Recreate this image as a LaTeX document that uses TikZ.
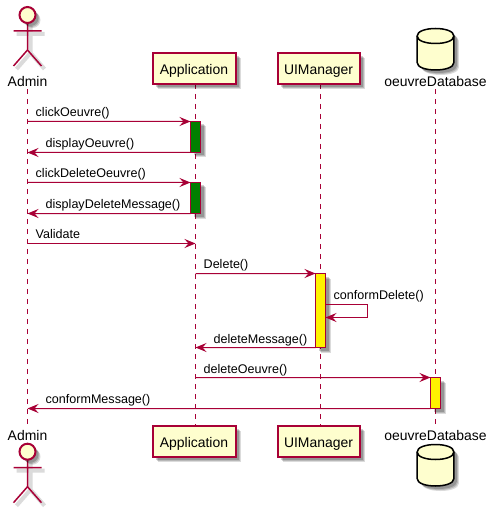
\documentclass[tikz,border=0pt]{standalone}
\usepackage{fontspec}
\setmainfont{Liberation Sans}
\usetikzlibrary{arrows.meta}
\definecolor{umlred}{HTML}{A80036}
\definecolor{umlfill}{HTML}{FEFECE}
\definecolor{umlgreen}{HTML}{008000}
\tikzset{
    softshadow/.style={
        preaction={fill=black,opacity=0.14,transform canvas={shift={(5bp,-5bp)}}},
        preaction={fill=black,opacity=0.16,transform canvas={shift={(4bp,-4bp)}}},
        preaction={fill=black,opacity=0.18,transform canvas={shift={(3bp,-3bp)}}}},
    partbox/.style={draw=umlred,fill=umlfill,line width=2bp,minimum width=#1,minimum height=31bp,inner sep=0pt,outer sep=0pt,text height=12bp,text depth=0pt,font=\fontsize{14}{16}\selectfont,softshadow},
    partname/.style={anchor=base,inner sep=2bp,font=\fontsize{14}{16}\selectfont},
    life/.style={umlred,line width=1bp,dash pattern=on 5bp off 5bp},
    msg/.style={umlred,line width=1bp,-{Stealth[length=11bp,width=9bp,inset=4bp]}},
    msgtext/.style={anchor=base west,inner sep=0pt,font=\fontsize{12.6}{15}\selectfont},
    bar/.style={draw=umlred,line width=1.5bp,minimum width=10bp,minimum height=#1,inner sep=0pt,outer sep=0pt,softshadow},
    pics/stickman/.style={code={
        \draw[black!14,line width=4bp,shift={(3,3)}] (0,8) -- (0,35) (-14,16) -- (14,16) (0,35) -- (-14,51) (0,35) -- (14,51);
        \draw[umlred,line width=1.5bp] (0,8) -- (0,35) (-14,16) -- (14,16) (0,35) -- (-14,51) (0,35) -- (14,51);
        \draw[umlred,fill=umlfill,line width=2bp,softshadow] (0,0) circle (8bp);
    }},
    pics/dbcan/.style={code={
        \draw[black,fill=umlfill,line width=1.5bp,softshadow] (-18.4,10) .. controls (-18.4,0) and (18.4,0) .. (18.4,10)
            -- (18.4,36.5) .. controls (18.4,46.5) and (-18.4,46.5) .. (-18.4,36.5) -- cycle;
        \draw[black,line width=1.5bp] (-18.4,10) .. controls (-18.4,20) and (18.4,20) .. (18.4,10);
    }}
}
\begin{document}
\begin{tikzpicture}[x=1bp,y=-1bp]
    \useasboundingbox[fill=white] (0,0) rectangle (491,508);
    % names on the four lifelines
    \node[partname] (adminTop) at (27.5,87) {Admin};
    \node[partname] (adminBot) at (27.5,440) {Admin};
    \node[partname] (dbTop) at (435.5,87) {oeuvreDatabase};
    \node[partname] (dbBot) at (435.5,440) {oeuvreDatabase};
    \coordinate (appTop) at (195.5,84);
    \coordinate (appBot) at (195.5,426);
    \coordinate (uiTop) at (320.5,84);
    \coordinate (uiBot) at (320.5,426);
    \draw[life] (adminTop.south) -- (adminBot.north);
    \draw[life] (appTop) -- (appBot);
    \draw[life] (uiTop) -- (uiBot);
    \draw[life] (dbTop.south) -- (dbBot.north);
    % participants
    \node[partbox=83bp] (appHead) at (194,69) {Application};
    \node[partbox=83bp] (appFoot) at (194,441) {Application};
    \node[partbox=82bp] (uiHead) at (318.5,69) {UIManager};
    \node[partbox=82bp] (uiFoot) at (318.5,441) {UIManager};
    \pic at (27.5,15) {stickman};
    \pic at (27.5,451.7) {stickman};
    \pic at (435.5,26) {dbcan};
    \pic at (435.5,442) {dbcan};
    % activations
    \node[bar=31bp,fill=umlgreen] (appBarA) at (195.5,137) {};
    \node[bar=31bp,fill=umlgreen] (appBarB) at (195.5,198) {};
    \node[bar=74bp,fill=yellow] (uiBar) at (320.5,310.5) {};
    \node[bar=31bp,fill=yellow] (dbBar) at (435.5,393) {};
    % message ends
    \coordinate (adminA) at (27.5,121.5);
    \coordinate (adminB) at (27.5,152.5);
    \coordinate (adminC) at (27.5,182.5);
    \coordinate (adminD) at (27.5,213.5);
    \coordinate (adminE) at (27.5,243.5);
    \coordinate (adminF) at (27.5,408.5);
    \coordinate (appE) at (195.5,243.5);
    \coordinate (appF) at (195.5,273.5);
    \coordinate (appG) at (195.5,347.5);
    \coordinate (appH) at (195.5,377.5);
    \coordinate (selfA) at (367.5,304.5);
    \coordinate (selfB) at (367.5,317.5);
    \coordinate (uiA) at (325.5,304.5);
    \coordinate (uiB) at (325.5,317.5);
    % messages
    \draw[msg] (adminA) -- (appBarA.north west);
    \draw[msg] (appBarA.south west) -- (adminB);
    \draw[msg] (adminC) -- (appBarB.north west);
    \draw[msg] (appBarB.south west) -- (adminD);
    \draw[msg] (adminE) -- (appE);
    \draw[msg] (appF) -- (uiBar.north west);
    \draw[msg] (uiA) -- (selfA) -- (selfB) -- (uiB);
    \draw[msg] (uiBar.south west) -- (appG);
    \draw[msg] (appH) -- (dbBar.north west);
    \draw[msg] (dbBar.south west) -- (adminF);
    % message labels
    \node[msgtext] (clickOeuvre) at (35.5,116.5) {clickOeuvre()};
    \node[msgtext] (displayOeuvre) at (45.5,147.5) {displayOeuvre()};
    \node[msgtext] (clickDelete) at (35.5,177.5) {clickDeleteOeuvre()};
    \node[msgtext] (displayDelete) at (45.5,208) {displayDeleteMessage()};
    \node[msgtext] (validate) at (35.5,238) {Validate};
    \node[msgtext] (delete) at (203.5,268.5) {Delete()};
    \node[msgtext] (conformDelete) at (333.5,299.5) {conformDelete()};
    \node[msgtext] (deleteMessage) at (213.5,343) {deleteMessage()};
    \node[msgtext] (deleteOeuvre) at (203.5,373) {deleteOeuvre()};
    \node[msgtext] (conformMessage) at (45.5,403.5) {conformMessage()};
\end{tikzpicture}
\end{document}
